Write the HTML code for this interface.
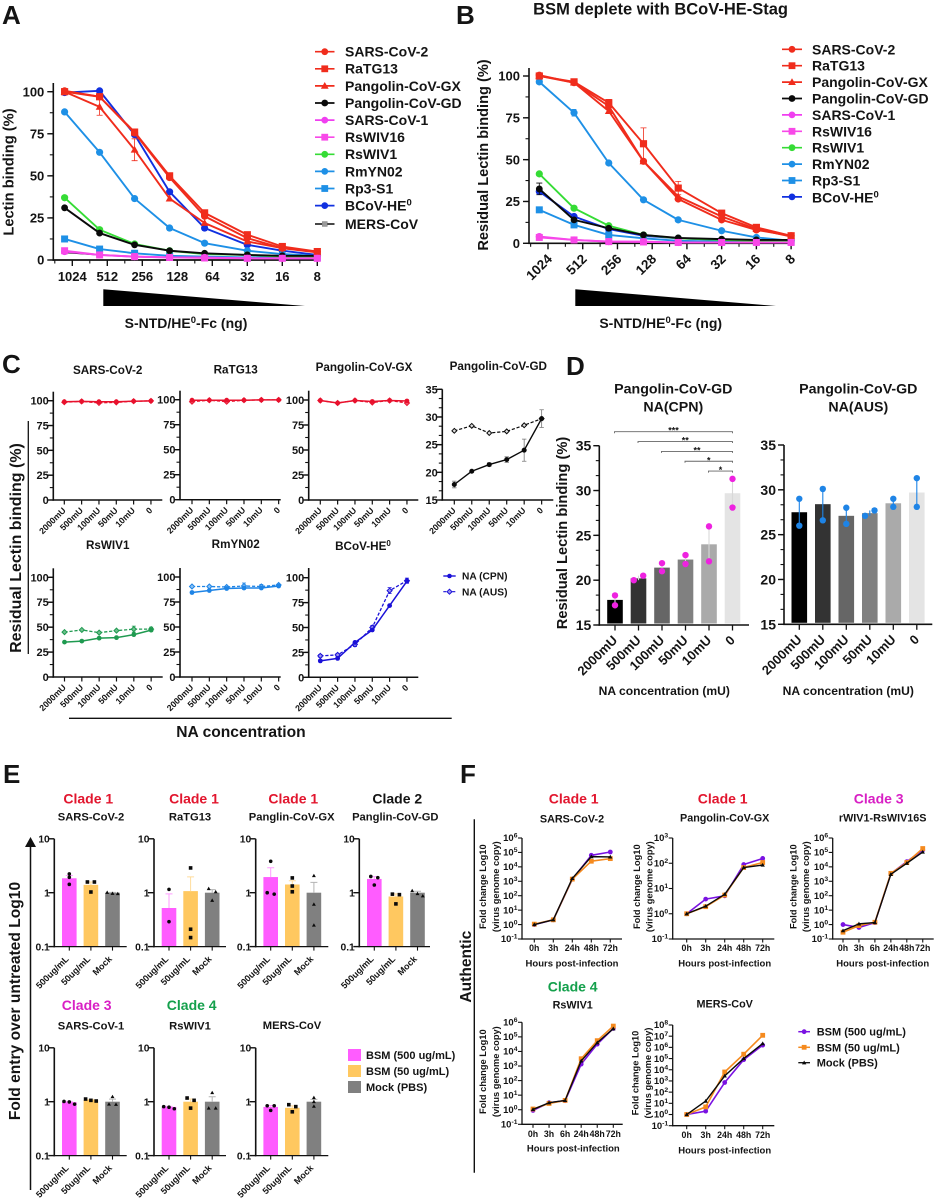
<!DOCTYPE html>
<html lang="en">
<head>
<meta charset="utf-8">
<title>Lectin binding figure</title>
<style>
html,body{margin:0;padding:0;background:#fff;}
svg{display:block;filter:blur(0.3px);}
text{font-family:"Liberation Sans",sans-serif;font-weight:700;fill:#141414;}
</style>
</head>
<body>
<svg id="figure" xmlns="http://www.w3.org/2000/svg" width="936" height="1200" viewBox="0 0 936 1200">
<rect width="936" height="1200" fill="#fff"/>

<!-- panel letters -->
<text x="2" y="24" font-size="26">A</text>
<text x="456" y="24" font-size="26">B</text>
<text x="2" y="373" font-size="26">C</text>
<text x="566" y="375" font-size="26">D</text>
<text x="3" y="783" font-size="26">E</text>
<text x="460" y="783" font-size="26">F</text>

<!-- panel A text -->
<text transform="translate(13.5 172) rotate(-90)" text-anchor="middle" font-size="14.7">Lectin binding (%)</text>
<polygon points="103.3,289.3 103.3,306 305,306" fill="#000"/>
<text x="186" y="328" text-anchor="middle" font-size="14">S-NTD/HE<tspan dy="-5" font-size="9.5">0</tspan><tspan dy="5">-Fc (ng)</tspan></text>
<g font-size="14">
<text x="345" y="56.7">SARS-CoV-2</text>
<text x="345" y="73.7">RaTG13</text>
<text x="345" y="91">Pangolin-CoV-GX</text>
<text x="345" y="108">Pangolin-CoV-GD</text>
<text x="345" y="125">SARS-CoV-1</text>
<text x="345" y="142">RsWIV16</text>
<text x="345" y="159">RsWIV1</text>
<text x="345" y="176.3">RmYN02</text>
<text x="345" y="193.3">Rp3-S1</text>
<text x="345" y="210.7">BCoV-HE<tspan dy="-5" font-size="9.5">0</tspan></text>
<text x="345" y="229">MERS-CoV</text>
</g>

<!-- panel B text -->
<text x="660.6" y="14.5" text-anchor="middle" font-size="16.5">BSM deplete with BCoV-HE-Stag</text>
<text transform="translate(488 155) rotate(-90)" text-anchor="middle" font-size="14.6">Residual Lectin binding (%)</text>
<polygon points="575.3,289.3 575.3,306 776,306" fill="#000"/>
<text x="660.7" y="328" text-anchor="middle" font-size="14">S-NTD/HE<tspan dy="-5" font-size="9.5">0</tspan><tspan dy="5">-Fc (ng)</tspan></text>
<g font-size="14">
<text x="812" y="54.3">SARS-CoV-2</text>
<text x="812" y="70.7">RaTG13</text>
<text x="812" y="87">Pangolin-CoV-GX</text>
<text x="812" y="103.3">Pangolin-CoV-GD</text>
<text x="812" y="120">SARS-CoV-1</text>
<text x="812" y="136.3">RsWIV16</text>
<text x="812" y="152.7">RsWIV1</text>
<text x="812" y="169">RmYN02</text>
<text x="812" y="185.3">Rp3-S1</text>
<text x="812" y="202.3">BCoV-HE<tspan dy="-5" font-size="9.5">0</tspan></text>
</g>

<!-- panel C text -->
<text x="107.7" y="374" text-anchor="middle" font-size="11.7">SARS-CoV-2</text>
<text x="235.7" y="373.3" text-anchor="middle" font-size="11.7">RaTG13</text>
<text x="364" y="371" text-anchor="middle" font-size="11.7">Pangolin-CoV-GX</text>
<text x="498.3" y="370" text-anchor="middle" font-size="11.7">Pangolin-CoV-GD</text>
<text x="107.7" y="549" text-anchor="middle" font-size="11.7">RsWIV1</text>
<text x="235.7" y="548" text-anchor="middle" font-size="11.7">RmYN02</text>
<text x="363" y="550" text-anchor="middle" font-size="11.7">BCoV-HE<tspan dy="-4" font-size="8">0</tspan></text>
<line x1="28.3" y1="421" x2="28.3" y2="654" stroke="#111" stroke-width="1.3"/>
<text transform="translate(21 548) rotate(-90)" text-anchor="middle" font-size="16">Residual Lectin binding (%)</text>
<line x1="69" y1="718.3" x2="451.7" y2="718.3" stroke="#111" stroke-width="1.3"/>
<text x="241" y="737" text-anchor="middle" font-size="15.6">NA concentration</text>
<text x="462" y="579.6" font-size="10.2">NA (CPN)</text>
<text x="462" y="595.3" font-size="10.2">NA (AUS)</text>

<!-- panel D text -->
<g text-anchor="middle" font-size="14.2">
<text x="673.3" y="393.3">Pangolin-CoV-GD</text>
<text x="673.3" y="411.7">NA(CPN)</text>
<text x="858.3" y="393.3">Pangolin-CoV-GD</text>
<text x="858.3" y="411.7">NA(AUS)</text>
</g>
<text transform="translate(567 533) rotate(-90)" text-anchor="middle" font-size="14.7">Residual Lectin binding (%)</text>
<text x="664.3" y="695" text-anchor="middle" font-size="12.1">NA concentration (mU)</text>
<text x="848.3" y="695" text-anchor="middle" font-size="12.1">NA concentration (mU)</text>

<!-- panel E text -->
<g text-anchor="middle" font-size="14">
<text x="88.3" y="803.3" style="fill:#e2162e">Clade 1</text>
<text x="194" y="803.3" style="fill:#e2162e">Clade 1</text>
<text x="293.3" y="803.3" style="fill:#e2162e">Clade 1</text>
<text x="397.3" y="803.3">Clade 2</text>
<text x="86.7" y="1010" style="fill:#d81fc4">Clade 3</text>
<text x="191.7" y="1010" style="fill:#14a04c">Clade 4</text>
</g>
<g text-anchor="middle" font-size="11.2">
<text x="91" y="820.7">SARS-CoV-2</text>
<text x="190" y="820.7">RaTG13</text>
<text x="291.7" y="820.7">Panglin-CoV-GX</text>
<text x="395.3" y="820.7">Panglin-CoV-GD</text>
<text x="91" y="1029.3">SARS-CoV-1</text>
<text x="190" y="1029.3">RsWIV1</text>
<text x="292" y="1029">MERS-CoV</text>
</g>
<line x1="30.5" y1="1190" x2="30.5" y2="845" stroke="#111" stroke-width="1.5"/>
<polygon points="30.5,837 25,847 36,847" fill="#111"/>
<text transform="translate(20 1001) rotate(-90)" text-anchor="middle" font-size="15.6">Fold entry over untreated Log10</text>
<rect x="348" y="1049" width="13" height="12" fill="#ff5cff"/>
<rect x="348" y="1065" width="13" height="12" fill="#ffc860"/>
<rect x="348" y="1081" width="13" height="12" fill="#808080"/>
<text x="366" y="1059" font-size="11">BSM (500 ug/mL)</text>
<text x="366" y="1075" font-size="11">BSM (50 ug/mL)</text>
<text x="366" y="1091" font-size="11">Mock (PBS)</text>

<!-- panel F text -->
<g text-anchor="middle" font-size="14">
<text x="573.7" y="803.3" style="fill:#e2162e">Clade 1</text>
<text x="722.7" y="803.3" style="fill:#e2162e">Clade 1</text>
<text x="878.7" y="803.3" style="fill:#d81fc4">Clade 3</text>
<text x="572.7" y="991.7" style="fill:#14a04c">Clade 4</text>
</g>
<g text-anchor="middle" font-size="10.8">
<text x="572" y="822.3">SARS-CoV-2</text>
<text x="724.7" y="821.7">Pangolin-CoV-GX</text>
<text x="882.7" y="821.7">rWIV1-RsWIV16S</text>
<text x="572.7" y="1008.3">RsWIV1</text>
<text x="724.7" y="1007.7">MERS-CoV</text>
</g>
<g text-anchor="middle" font-size="9.5">
<text x="572" y="966.7">Hours post-infection</text>
<text x="724.7" y="966.7">Hours post-infection</text>
<text x="882.7" y="966.7">Hours post-infection</text>
<text x="573.3" y="1151.7">Hours post-infection</text>
<text x="724.7" y="1153.3">Hours post-infection</text>
</g>
<g text-anchor="middle" font-size="9.3">
<text transform="translate(486 886.7) rotate(-90)">Fold change Log10</text>
<text transform="translate(499 886.7) rotate(-90)">(virus genome copy)</text>
<text transform="translate(640 886.7) rotate(-90)">Fold change Log10</text>
<text transform="translate(652.7 886.7) rotate(-90)">(virus genome copy)</text>
<text transform="translate(796.7 886.7) rotate(-90)">Fold change Log10</text>
<text transform="translate(809 886.7) rotate(-90)">(virus genome copy)</text>
<text transform="translate(486 1071.7) rotate(-90)">Fold change Log10</text>
<text transform="translate(499 1071.7) rotate(-90)">(virus genome copy)</text>
<text transform="translate(638.7 1073) rotate(-90)">Fold change Log10</text>
<text transform="translate(651 1073) rotate(-90)">(virus genome copy)</text>
</g>
<line x1="474.3" y1="819.3" x2="474.3" y2="1172.7" stroke="#111" stroke-width="1.4"/>
<text transform="translate(471 966.7) rotate(-90)" text-anchor="middle" font-size="15.6">Authentic</text>
<text x="816.7" y="1035.7" font-size="11">BSM (500 ug/mL)</text>
<text x="816.7" y="1051.3" font-size="11">BSM (50 ug/mL)</text>
<text x="816.7" y="1066.7" font-size="11">Mock (PBS)</text>
</svg>

<script>
/* ---------- data: panel A ---------- */
const doseLabels = ['1024', '512', '256', '128', '64', '32', '16', '8'];
const pctTicks = [0, 25, 50, 75, 100];
const aSarsCov2 = [100.5, 97, 75.5, 49, 26, 13, 7, 5];
const aRatg13 = [100, 97, 76, 50, 28, 15, 8, 5];
const aPangolinGx = [100, 91, 65.5, 36.5, 22, 11, 7, 4.5];
const aPangolinGxErr = [0, 5, 6.5, 0, 0, 0, 0, 0];
const aPangolinGd = [31, 16, 9, 5.5, 4, 3, 2.5, 2.5];
const aSarsCov1 = [5, 3, 2, 1.5, 1.5, 1, 1, 1];
const aRsWiv16 = [5.5, 3, 2, 1.5, 1.2, 1, 1, 1];
const aRsWiv1 = [37, 18, 9.5, 5.5, 3.5, 3, 2, 2];
const aRmYn02 = [88, 64, 36.5, 19, 10, 5.5, 3.5, 2.5];
const aRp3 = [12.5, 6.5, 4, 2.5, 2, 1.5, 1.5, 1.5];
const aBcov = [99.5, 100.5, 74.5, 40.5, 19, 9, 5.5, 3];
const aMers = [4.5, 3, 2, 1.5, 1.5, 1, 1, 1];

/* ---------- data: panel B ---------- */
const bSarsCov2 = [100.5, 96, 82, 49, 26.5, 14, 8, 4.5];
const bRatg13 = [100, 96.5, 84, 59.5, 33, 18, 9.5, 4.5];
const bRatg13Err = [0, 0, 2, 9.5, 4, 0, 0, 0];
const bPangolinGx = [100, 96, 79, 49, 28, 16, 8.5, 4];
const bPangolinGd = [32.5, 14, 9, 5, 3.2, 2.5, 2, 2];
const bPangolinGdErr = [3.5, 0, 0, 0, 0, 0, 0, 0];
const bSarsCov1 = [4, 2, 1, 1, 0.5, 0.5, 0.5, 0.5];
const bRsWiv16 = [3.5, 2, 1, 0.8, 0.5, 0.5, 0.5, 0.5];
const bRsWiv1 = [41.5, 21, 10.5, 5, 3, 2, 1.5, 1.5];
const bRmYn02 = [96.5, 78, 48, 26, 14, 7.5, 3.5, 1.5];
const bRmYn02Err = [0, 2, 0, 0, 0, 0, 0, 0];
const bRp3 = [20, 11, 5, 3, 1.5, 1, 1, 1];
const bBcov = [31, 16, 8.5, 4.5, 3, 2, 1.5, 1.5];

/* ---------- data: panel C ---------- */
const naLabels = ['2000mU', '500mU', '100mU', '50mU', '10mU', '0'];
const gdTicks = [15, 20, 25, 30, 35];
const cSarsCpn = [99, 99.3, 99, 99, 99.5, 99.8];
const cSarsAus = [98.5, 99.3, 97.8, 98.3, 99.5, 99.8];
const cRatgCpn = [99.5, 99.5, 99.5, 99.5, 99.8, 99.8];
const cRatgAus = [98, 99.5, 98, 99.5, 99.8, 99.8];
const cGxCpn = [99.5, 97, 99.5, 98.5, 99.5, 99];
const cGxAus = [99.5, 97, 99.5, 97.5, 99.5, 97];
const cGdCpn = [17.8, 20.2, 21.4, 22.3, 24, 29.7];
const cGdCpnErr = [0.6, 0.15, 0.3, 0.5, 2, 1.6];
const cGdAus = [27.5, 28.4, 27.1, 27.4, 28.5, 29.7];
const cWiv1Cpn = [35, 36, 39, 39.5, 42.5, 47];
const cWiv1Aus = [45, 47.2, 44.5, 46.5, 48, 48];
const cWiv1AusErr = [0, 0, 0, 0, 3, 2];
const cRmynCpn = [84.5, 86.5, 88.5, 89, 89, 91];
const cRmynAus = [90.5, 90.5, 90, 91, 90.5, 92];
const cRmynAusErr = [0, 0, 0, 3, 2, 0];
const cBcovCpn = [16.5, 19, 35, 47.5, 72, 96.5];
const cBcovAus = [21.5, 22.5, 33, 50, 87, 97];
const cBcovAusErr = [1.5, 1.5, 2, 2, 3, 2.5];

/* ---------- data: panel D ---------- */
const dCpnMeans = [17.8, 20.2, 21.4, 22.3, 24, 29.7];
const dCpnRepA = [18.3, 20, 21.9, 22.8, 26, 31.3];
const dCpnRepB = [17.2, 20.5, 21, 21.8, 22.1, 28.1];
const dAusMeans = [27.5, 28.4, 27.1, 27.4, 28.5, 29.7];
const dAusRepA = [29, 30.1, 28, 27.1, 29, 31.3];
const dAusRepB = [26, 26.6, 26.2, 27.7, 28.1, 28.1];
const sigFromBar = [0, 1, 2, 3, 4];
const sigLabels = ['***', '**', '**', '*', '*'];

/* ---------- data: panel E ---------- */
const eLabels = ['500ug/mL', '50ug/mL', 'Mock'];
const eTicks = [0.1, 1, 10];
const eTickLabels = ['0.1', '1', '10'];
const eSars2Means = [1.85, 1.4, 1.0];
const eSars2Bsm500 = [2.23, 1.93, 1.43];
const eSars2Bsm50 = [1.58, 1.58, 1.03];
const eSars2Mock = [0.96, 1.01, 0.97];
const eRatgMeans = [0.52, 1.07, 1.0];
const eRatgBsm500 = [1.15, 0.29];
const eRatgBsm50 = [2.88, 0.21, 0.147];
const eRatgMock = [1.19, 1.04, 0.72];
const eGxMeans = [1.95, 1.42, 1.0];
const eGxBsm500 = [3.83, 0.94, 1.0];
const eGxBsm50 = [1.88, 1.33, 1.04];
const eGxMock = [2.07, 0.61, 0.25];
const eGdMeans = [1.8, 0.85, 1.0];
const eGdBsm500 = [2.0, 1.9, 1.39];
const eGdBsm50 = [0.94, 0.92, 0.62];
const eGdMock = [0.87, 1.09, 0.96];
const eSars1Means = [0.98, 1.08, 1.0];
const eSars1Bsm500 = [0.9, 1.01, 0.99];
const eSars1Bsm50 = [1.03, 1.12, 1.06];
const eSars1Mock = [0.9, 1.24, 0.89];
const eWiv1Means = [0.8, 1.0, 1.0];
const eWiv1Bsm500 = [0.74, 0.81, 0.79];
const eWiv1Bsm50 = [1.17, 1.06, 0.76];
const eWiv1Mock = [0.76, 1.47, 0.76];
const eMersMeans = [0.8, 0.77, 1.0];
const eMersBsm500 = [0.84, 0.69, 0.84];
const eMersBsm50 = [0.88, 0.81, 0.65];
const eMersMock = [1.19, 1.0, 0.82];

/* ---------- data: panel F (log10 fold change) ---------- */
const hoursFive = ['0h', '3h', '24h', '48h', '72h'];
const hoursSix = ['0h', '3h', '6h', '24h', '48h', '72h'];
const expSix = [-1, 0, 1, 2, 3, 4, 5, 6];
const expThree = [-1, 0, 1, 2, 3];
const expEight = [-1, 0, 1, 2, 3, 4, 5, 6, 7, 8];
const fSarsBsm500 = [0, 0.33, 3.14, 4.8, 5.03];
const fSarsBsm50 = [0.03, 0.33, 3.15, 4.39, 4.57];
const fSarsMock = [0, 0.33, 3.2, 4.71, 4.69];
const fGxBsm500 = [0, 0.58, 0.71, 1.95, 2.19];
const fGxBsm50 = [0, 0.28, 0.74, 1.83, 2.03];
const fGxMock = [0, 0.3, 0.77, 1.83, 1.93];
const fRwivBsm500 = [0, -0.2, 0.14, 3.53, 4.36, 5.17];
const fRwivBsm50 = [-0.53, -0.07, 0.16, 3.55, 4.3, 5.27];
const fRwivMock = [-0.42, 0.05, 0.14, 3.48, 4.25, 5.03];
const fWiv1Bsm500 = [-0.05, 0.48, 0.62, 3.13, 4.5, 5.58];
const fWiv1Bsm50 = [0.05, 0.43, 0.64, 3.5, 4.74, 5.74];
const fWiv1Mock = [0.02, 0.48, 0.64, 3.35, 4.6, 5.56];
const fMersBsm500 = [0, 0.3, 2.86, 4.9, 6.2];
const fMersBsm50 = [0, 0.68, 3.8, 5.39, 7.08];
const fMersMock = [0, 1.2, 3.45, 5.0, 6.34];

/* ---------- palette ---------- */
const RED = '#f02c1c', BLACK = '#0a0a0a', MAG = '#f03ff0', PINK = '#f848e8', GREEN = '#35dc35',
      SKY = '#1e90e6', BLUE = '#1030e0', GREY = '#9a9a9a';

/* ---------- helpers ---------- */
const NS = 'http://www.w3.org/2000/svg';
const root = document.getElementById('figure');

function mk(tag, attrs, parent) {
  const n = document.createElementNS(NS, tag);
  for (const k in attrs) n.setAttribute(k, attrs[k]);
  parent.appendChild(n);
  return n;
}
function group(name) {
  const g = mk('g', {}, root);
  
  
  return g;
}
function tickLine(g, x1, y1, x2, y2, sw) {
  const t = mk('line', { x1: x1, y1: y1, x2: x2, y2: y2, stroke: '#111', 'stroke-width': sw }, g);
  
  
  return t;
}
function label(g, str, x, y, fs, anchor, rot) {
  const t = mk('text', { x: x, y: y, 'font-size': fs, 'text-anchor': anchor }, g);
  if (rot) t.setAttribute('transform', 'rotate(' + rot + ' ' + x + ' ' + y + ')');
  t.textContent = str;
  
  
  return t;
}
function marker(g, kind, cx, cy, s, color, hollow) {
  let n;
  const fill = hollow ? hollow : color;
  if (kind === 'circle') n = mk('circle', { cx: cx, cy: cy, r: s, fill: fill, stroke: color, 'stroke-width': hollow ? 1 : 0 }, g);
  else if (kind === 'square') n = mk('rect', { x: cx - s, y: cy - s, width: 2 * s, height: 2 * s, fill: fill }, g);
  else if (kind === 'triangle') n = mk('polygon', { points: cx + ',' + (cy - s * 1.15) + ' ' + (cx - s * 1.15) + ',' + (cy + s * 0.85) + ' ' + (cx + s * 1.15) + ',' + (cy + s * 0.85), fill: fill }, g);
  else n = mk('polygon', { points: cx + ',' + (cy - s) + ' ' + (cx + s) + ',' + cy + ' ' + cx + ',' + (cy + s) + ' ' + (cx - s) + ',' + cy, fill: fill, stroke: color, 'stroke-width': hollow ? 1 : 0 }, g);
  
  
  return n;
}
function errorBar(g, x, yLow, yHigh, cap, color) {
  const e = mk('path', { d: 'M' + x + ' ' + yLow + 'V' + yHigh + 'M' + (x - cap) + ' ' + yHigh + 'H' + (x + cap) + 'M' + (x - cap) + ' ' + yLow + 'H' + (x + cap), stroke: color, 'stroke-width': 0.8, fill: 'none' }, g);
  
  
  return e;
}
function series(g, name, values, xOf, yOf, o) {
  const sg = mk('g', {}, g);
  
  
  const pts = values.map(function (v, i) { return xOf(i) + ',' + yOf(v); }).join(' ');
  const l = mk('polyline', { points: pts, fill: 'none', stroke: o.color, 'stroke-width': o.sw, 'stroke-linejoin': 'round' }, sg);
  if (o.dash) l.setAttribute('stroke-dasharray', o.dash);
  
  
  if (o.err) {
    o.err.forEach(function (e, i) {
      if (e > 0) errorBar(sg, xOf(i), yOf(values[i] - e), yOf(values[i] + e), o.cap || 2.4, o.errColor || o.color);
    });
  }
  values.forEach(function (v, i) {
    marker(sg, o.kind, xOf(i), yOf(v), o.size, o.color, o.hollow);
  });
}
function legendKey(g, x1, x2, y, o) {
  const l = mk('line', { x1: x1, y1: y, x2: x2, y2: y, stroke: o.color, 'stroke-width': o.sw }, g);
  if (o.dash) l.setAttribute('stroke-dasharray', o.dash);
  
  
  marker(g, o.kind, (x1 + x2) / 2, y, o.size, o.color, o.hollow);
}
function yAxis(g, x, yOf, ticks, labels, minorStep, top, fs, gap) {
  const vals = ticks;
  const bottomV = vals[0];
  const bottom = yOf(bottomV);
  tickLine(g, x, top, x, bottom + 0.7, 1.6);
  vals.forEach(function (v, i) {
    tickLine(g, x - 6, yOf(v), x, yOf(v), 1.4);
    label(g, labels[i], x - gap, yOf(v) + fs * 0.36, fs, 'end');
  });
  if (minorStep) {
    for (let k = 0; bottomV + k * minorStep < 1e4; k++) {
      const y = yOf(bottomV + k * minorStep);
      if (y < top) break;
      tickLine(g, x - 3.5, y, x, y, 1.1);
    }
  }
}

/* ---------- panel A & B ---------- */
const lineSw = 1.9;
const dotR = 3.6;
function drawDose(prefix, xMajor0, step, shift, axisX, axisEnd, y100, y0, top, rotated, seriesList) {
  const g = group(prefix + '-chart');
  const yOf = function (v) { return y0 - v * (y0 - y100) / 100; };
  const tickX = function (i) { return xMajor0 + i * step; };
  const xOf = function (i) { return tickX(i) - (i < 5 ? shift : 0); };
  yAxis(g, axisX, yOf, pctTicks, pctTicks.map(String), 12.5, top, 13, 9);
  tickLine(g, axisX - 0.8, y0, axisEnd, y0, 1.7);
  doseLabels.forEach(function (d, i) {
    tickLine(g, tickX(i), y0, tickX(i), y0 + 6, 1.4);
    if (i > 0) tickLine(g, tickX(i) - step / 2, y0, tickX(i) - step / 2, y0 + 3.5, 1.1);
    if (rotated) label(g, d, tickX(i) + 5, y0 + 16.5, 13.5, 'end', -45);
    else label(g, d, tickX(i), y0 + 21, 13, 'middle');
  });
  tickLine(g, tickX(0) - step / 2, y0, tickX(0) - step / 2, y0 + 3.5, 1.1);
  seriesList.forEach(function (s) {
    series(g, s.name, s.values, xOf, yOf, s);
  });
}
drawDose('a', 72.3, 35, 7.7, 53.3, 320, 91.7, 260, 83, false, [
  { name: 'mers-cov', values: aMers, color: BLACK, kind: 'square', size: 2, sw: 1.4 },
  { name: 'bcov-he0', values: aBcov, color: BLUE, kind: 'circle', size: dotR, sw: lineSw },
  { name: 'rp3-s1', values: aRp3, color: SKY, kind: 'square', size: 3.5, sw: lineSw },
  { name: 'rmyn02', values: aRmYn02, color: SKY, kind: 'circle', size: dotR, sw: lineSw },
  { name: 'rswiv1', values: aRsWiv1, color: GREEN, kind: 'circle', size: dotR, sw: lineSw },
  { name: 'pangolin-gd', values: aPangolinGd, color: BLACK, kind: 'circle', size: 3.4, sw: lineSw },
  { name: 'pangolin-gx', values: aPangolinGx, err: aPangolinGxErr, color: RED, kind: 'triangle', size: 3.4, sw: lineSw, cap: 3 },
  { name: 'ratg13', values: aRatg13, color: RED, kind: 'square', size: 3.6, sw: lineSw },
  { name: 'sars-cov-2', values: aSarsCov2, color: RED, kind: 'circle', size: dotR, sw: lineSw },
  { name: 'sars-cov-1', values: aSarsCov1, color: MAG, kind: 'circle', size: dotR, sw: lineSw },
  { name: 'rswiv16', values: aRsWiv16, color: PINK, kind: 'square', size: 3.5, sw: lineSw }
]);
drawDose('b', 548, 34.73, 8.7, 529, 794, 76, 243.3, 68, true, [
  { name: 'bcov-he0', values: bBcov, color: BLUE, kind: 'circle', size: dotR, sw: lineSw },
  { name: 'rp3-s1', values: bRp3, color: SKY, kind: 'square', size: 3.5, sw: lineSw },
  { name: 'rmyn02', values: bRmYn02, err: bRmYn02Err, color: SKY, kind: 'circle', size: dotR, sw: lineSw },
  { name: 'rswiv1', values: bRsWiv1, color: GREEN, kind: 'circle', size: dotR, sw: lineSw },
  { name: 'pangolin-gd', values: bPangolinGd, err: bPangolinGdErr, color: BLACK, kind: 'circle', size: 3.4, sw: lineSw, cap: 3 },
  { name: 'pangolin-gx', values: bPangolinGx, color: RED, kind: 'triangle', size: 3.4, sw: lineSw },
  { name: 'ratg13', values: bRatg13, err: bRatg13Err, color: RED, kind: 'square', size: 3.6, sw: lineSw, cap: 3 },
  { name: 'sars-cov-2', values: bSarsCov2, color: RED, kind: 'circle', size: dotR, sw: lineSw },
  { name: 'sars-cov-1', values: bSarsCov1, color: MAG, kind: 'circle', size: dotR, sw: lineSw },
  { name: 'rswiv16', values: bRsWiv16, color: PINK, kind: 'square', size: 3.5, sw: lineSw }
]);

const legendStyles = [
  { color: RED, kind: 'circle' }, { color: RED, kind: 'square' }, { color: RED, kind: 'triangle' },
  { color: BLACK, kind: 'circle' }, { color: MAG, kind: 'circle' }, { color: PINK, kind: 'square' },
  { color: GREEN, kind: 'circle' }, { color: SKY, kind: 'circle' }, { color: SKY, kind: 'square' },
  { color: BLUE, kind: 'circle' }
];
const aLegend = group('a-legend-keys');
legendStyles.forEach(function (s, i) {
  legendKey(aLegend, 315, 334.5, 51.7 + i * 17.1, { color: s.color, kind: s.kind, size: 3.4, sw: 1.7 });
});
legendKey(aLegend, 315, 334.5, 224, { color: BLACK, kind: 'square', size: 2.6, sw: 1.6 });
marker(aLegend, 'square', 324.7, 224, 2.6, GREY);
const bLegend = group('b-legend-keys');
legendStyles.forEach(function (s, i) {
  legendKey(bLegend, 782, 802, 49.3 + i * 16.4, { color: s.color, kind: s.kind, size: 3.4, sw: 1.7 });
});

/* ---------- panel C ---------- */
const cLayouts = [
  { name: 'sars-cov-2', solid: cSarsCpn, dashed: cSarsAus, color: '#e8112d', tint: '#f27a8a', axis: 53.3, end: 162.3, first: 64.3, step: 17.33, y100: 400.7, y0: 500, top: 391.7 },
  { name: 'ratg13', solid: cRatgCpn, dashed: cRatgAus, color: '#e8112d', tint: '#f27a8a', axis: 180, end: 280.7, first: 192, step: 17.33, y100: 399.7, y0: 499.7, top: 390.7 },
  { name: 'pangolin-gx', solid: cGxCpn, dashed: cGxAus, color: '#e8112d', tint: '#f27a8a', axis: 308.7, end: 418.3, first: 320.3, step: 17.33, y100: 400, y0: 500, top: 390.7 },
  { name: 'rswiv1', solid: cWiv1Cpn, dashed: cWiv1Aus, dashedErr: cWiv1AusErr, color: '#1f9a50', tint: '#6fc08e', axis: 53.3, end: 162.7, first: 64.5, step: 17.33, y100: 577.3, y0: 677, top: 568.3 },
  { name: 'rmyn02', solid: cRmynCpn, dashed: cRmynAus, dashedErr: cRmynAusErr, color: '#1e84e6', tint: '#8fc4f4', axis: 180, end: 280.7, first: 192, step: 17.33, y100: 577, y0: 677, top: 568 },
  { name: 'bcov-he0', solid: cBcovCpn, dashed: cBcovAus, dashedErr: cBcovAusErr, color: '#1a10d8', tint: '#9a94ee', axis: 308.7, end: 418.3, first: 320.3, step: 17.33, y100: 577.7, y0: 677.3, top: 568 }
];
cLayouts.forEach(function (c) {
  const g = group('c-chart-' + c.name);
  const yOf = function (v) { return c.y0 - v * (c.y0 - c.y100) / 100; };
  const xOf = function (i) { return c.first + i * c.step; };
  yAxis(g, c.axis, yOf, pctTicks, pctTicks.map(String), 12.5, c.top, 11, 4.5);
  tickLine(g, c.axis - 0.8, c.y0, c.end, c.y0, 1.5);
  naLabels.forEach(function (d, i) {
    tickLine(g, xOf(i), c.y0, xOf(i), c.y0 + 4.5, 1.2);
    label(g, d, xOf(i) + 2, c.y0 + 11, 8.7, 'end', -45);
  });
  series(g, 'na-aus', c.dashed, xOf, yOf, { color: c.color, kind: 'diamond', size: 2.5, sw: 1.3, dash: '3.2 1.8', hollow: c.tint, err: c.dashedErr, cap: 2 });
  series(g, 'na-cpn', c.solid, xOf, yOf, { color: c.color, kind: 'circle', size: 2.4, sw: 1.5 });
});
(function () {
  const g = group('c-chart-pangolin-gd');
  const yOf = function (v) { return 500 - (v - 15) * (500 - 389.3) / 20; };
  const xOf = function (i) { return 454.3 + i * 17.47; };
  yAxis(g, 442.3, yOf, gdTicks, gdTicks.map(String), 5 / 3, 389.3, 11, 4.5);
  tickLine(g, 441.5, 500, 553.3, 500, 1.5);
  naLabels.forEach(function (d, i) {
    tickLine(g, xOf(i), 500, xOf(i), 504.5, 1.2);
    label(g, d, xOf(i) + 2, 511, 8.7, 'end', -45);
  });
  series(g, 'na-aus', cGdAus, xOf, yOf, { color: BLACK, kind: 'diamond', size: 2.4, sw: 1.2, dash: '3.2 1.8', hollow: '#dcdcdc' });
  series(g, 'na-cpn', cGdCpn, xOf, yOf, { color: BLACK, kind: 'circle', size: 2.5, sw: 1.4, err: cGdCpnErr, errColor: '#777', cap: 2.2 });
})();
const cLegend = group('c-legend-keys');
legendKey(cLegend, 443.3, 455.7, 576, { color: '#1a10d8', kind: 'circle', size: 2.3, sw: 1.4 });
legendKey(cLegend, 443.3, 455.7, 591.7, { color: '#1a10d8', kind: 'diamond', size: 2.5, sw: 1.2, dash: '3 1.5', hollow: '#9a94ee' });

/* ---------- panel D ---------- */
const dGreys = ['#000000', '#333333', '#666666', '#808080', '#aaaaaa', '#e4e4e4'];
function drawBars(prefix, means, repA, repB, axis, end, firstBar, y35, y15, dotColor, errColorOf) {
  const g = group(prefix);
  const yOf = function (v) { return y15 - (v - 15) * (y15 - y35) / 20; };
  const xOf = function (i) { return firstBar + i * 23.5; };
  means.forEach(function (m, i) {
    const b = mk('rect', { x: xOf(i) - 7.8, y: yOf(m), width: 15.6, height: y15 - 1.5 - yOf(m), fill: dGreys[i] }, g);
    
    
  });
  yAxis(g, axis, yOf, gdTicks, gdTicks.map(String), 5 / 3, y35, 14, 8);
  tickLine(g, axis - 0.8, y15, end, y15, 1.6);
  naLabels.forEach(function (d, i) {
    tickLine(g, xOf(i), y15, xOf(i), y15 + 5.5, 1.3);
    label(g, d, xOf(i) + 3.2, y15 + 16, 13, 'end', -45);
    const a = repA[i], b2 = repB[i];
    const close = Math.abs(yOf(a) - yOf(b2)) < 6;
    const spread = close ? 4.7 : 0;
    const conn = mk('line', { x1: xOf(i), y1: yOf(a), x2: xOf(i), y2: yOf(b2), stroke: errColorOf, 'stroke-width': 1.1 }, g);
    
    
    marker(g, 'circle', xOf(i) - spread, yOf(Math.min(a, b2)), 3.2, dotColor);
    marker(g, 'circle', xOf(i) + spread, yOf(Math.max(a, b2)), 3.2, dotColor);
  });
  return { xOf: xOf };
}
const dLeft = drawBars('d-left-chart', dCpnMeans, dCpnRepA, dCpnRepB, 599.3, 749, 615, 445.7, 625, '#ee22e0', '#d8d8d8');
drawBars('d-right-chart', dAusMeans, dAusRepA, dAusRepB, 784, 932.3, 799.3, 445, 624.3, '#1e84e6', '#1e84e6');
const sigG = group('d-significance-brackets');
sigFromBar.forEach(function (from, i) {
  const x1 = dLeft.xOf(from) - 0.5, x2 = dLeft.xOf(5), y = 431.7 + i * 9.85;
  const p = mk('path', { d: 'M' + x1 + ' ' + (y + 1.5) + 'V' + y + 'H' + x2 + 'V' + (y + 1.5), stroke: '#666', 'stroke-width': 0.9, fill: 'none' }, sigG);
  
  
  const t = label(sigG, sigLabels[i], (x1 + x2) / 2, y + 2, 9, 'middle');
  
});

/* ---------- panel E ---------- */
const eBarColors = ['#ff5cff', '#ffc860', '#808080'];
const eErrColors = ['#ff9cff', '#ffdc9c', '#b4b4b4'];
const eMarkers = ['circle', 'square', 'triangle'];
const eMarkerSize = [1.8, 1.8, 1.7];
const eLayouts = [
  { name: 'sars-cov-2', means: eSars2Means, reps: [eSars2Bsm500, eSars2Bsm50, eSars2Mock], axis: 54.3, end: 126.7, y1: 892.7 },
  { name: 'ratg13', means: eRatgMeans, reps: [eRatgBsm500, eRatgBsm50, eRatgMock], axis: 154, end: 226, y1: 892.7 },
  { name: 'panglin-gx', means: eGxMeans, reps: [eGxBsm500, eGxBsm50, eGxMock], axis: 255.7, end: 328.3, y1: 892.7 },
  { name: 'panglin-gd', means: eGdMeans, reps: [eGdBsm500, eGdBsm50, eGdMock], axis: 359.3, end: 430, y1: 892.7 },
  { name: 'sars-cov-1', means: eSars1Means, reps: [eSars1Bsm500, eSars1Bsm50, eSars1Mock], axis: 54.3, end: 126.7, y1: 1101.7 },
  { name: 'rswiv1', means: eWiv1Means, reps: [eWiv1Bsm500, eWiv1Bsm50, eWiv1Mock], axis: 154, end: 226, y1: 1101.7 },
  { name: 'mers-cov', means: eMersMeans, reps: [eMersBsm500, eMersBsm50, eMersMock], axis: 255.7, end: 328.3, y1: 1101.7 }
];
function swarmOffsets(ys) {
  const order = ys.map(function (y, i) { return i; }).sort(function (a, b) { return ys[a] - ys[b]; });
  const off = ys.map(function () { return 0; });
  let start = 0;
  for (let k = 1; k <= order.length; k++) {
    if (k === order.length || ys[order[k]] - ys[order[k - 1]] > 3.2) {
      const n = k - start;
      if (n > 1) {
        const d = n === 2 ? 7 : 5.3;
        for (let j = 0; j < n; j++) off[order[start + j]] = (j - (n - 1) / 2) * d;
      }
      start = k;
    }
  }
  return off;
}
eLayouts.forEach(function (c) {
  const g = group('e-chart-' + c.name);
  const yOf = function (v) { return c.y1 - Math.log10(v) * 53.9; };
  const xOf = function (i) { return c.axis + 15 + i * 21.6; };
  const y0 = yOf(eTicks[0]);
  c.means.forEach(function (m, i) {
    const b = mk('rect', { x: xOf(i) - 7.3, y: yOf(m), width: 14.6, height: y0 - yOf(m), fill: eBarColors[i] }, g);
    
    
    const r = c.reps[i];
    const avg = r.reduce(function (a, v) { return a + v; }, 0) / r.length;
    const sd = Math.sqrt(r.reduce(function (a, v) { return a + (v - avg) * (v - avg); }, 0) / Math.max(1, r.length - 1));
    const sem = sd / Math.sqrt(r.length);
    const e = mk('path', { d: 'M' + xOf(i) + ' ' + yOf(m) + 'V' + yOf(m + sem) + 'M' + (xOf(i) - 3.5) + ' ' + yOf(m + sem) + 'H' + (xOf(i) + 3.5), stroke: eErrColors[i], 'stroke-width': 1, fill: 'none' }, g);
    
    
  });
  yAxis(g, c.axis, yOf, eTicks, eTickLabels, 0, yOf(eTicks[2]), 10.3, 4.5);
  tickLine(g, c.axis - 0.8, y0, c.end, y0, 1.3);
  eLabels.forEach(function (d, i) {
    tickLine(g, xOf(i), y0, xOf(i), y0 + 4, 1.1);
    label(g, d, xOf(i), y0 + 13, 9, 'end', -45);
    const ys = c.reps[i].map(yOf);
    const off = swarmOffsets(ys);
    ys.forEach(function (y, j) {
      marker(g, eMarkers[i], xOf(i) + off[j], y, eMarkerSize[i], '#0a0a0a');
    });
  });
});

/* ---------- panel F ---------- */
const PURPLE = '#7a12e2', ORANGE = '#f58a1e';
const fLayouts = [
  { name: 'sars-cov-2', hours: hoursFive, exps: expSix, a: fSarsBsm500, b: fSarsBsm50, c: fSarsMock, axis: 522, end: 622, first: 534.3, step: 19, top: 838, bottom: 939, tickBase: 951 },
  { name: 'pangolin-gx', hours: hoursFive, exps: expThree, a: fGxBsm500, b: fGxBsm50, c: fGxMock, axis: 672.7, end: 774.3, first: 686.7, step: 19, top: 838, bottom: 939, tickBase: 951 },
  { name: 'rwiv1-rswiv16s', hours: hoursSix, exps: expSix, a: fRwivBsm500, b: fRwivBsm50, c: fRwivMock, axis: 832.7, end: 933.7, first: 843, step: 15.95, top: 838, bottom: 939, tickBase: 951 },
  { name: 'rswiv1', hours: hoursSix, exps: expSix, a: fWiv1Bsm500, b: fWiv1Bsm50, c: fWiv1Mock, axis: 522, end: 622.7, first: 533, step: 16.06, top: 1022.3, bottom: 1124.3, tickBase: 1137 },
  { name: 'mers-cov', hours: hoursFive, exps: expEight, a: fMersBsm500, b: fMersBsm50, c: fMersMock, axis: 672.7, end: 774.3, first: 686.7, step: 19, top: 1025, bottom: 1125.7, tickBase: 1138 }
];
fLayouts.forEach(function (c) {
  const g = group('f-chart-' + c.name);
  const lo = c.exps[0], hi = c.exps[c.exps.length - 1];
  const yOf = function (v) { return c.bottom - (v - lo) * (c.bottom - c.top) / (hi - lo); };
  const xOf = function (i) { return c.first + i * c.step; };
  tickLine(g, c.axis, c.top, c.axis, c.bottom + 0.6, 1.3);
  tickLine(g, c.axis - 0.6, c.bottom, c.end, c.bottom, 1.3);
  c.exps.forEach(function (e) {
    tickLine(g, c.axis - 4, yOf(e), c.axis, yOf(e), 1.1);
    const t = label(g, '10', c.axis - 4.5, yOf(e) + 3.2, 9.5, 'end');
    const s = mk('tspan', { dy: -3.5, 'font-size': 6.8 }, t);
    s.textContent = String(e);
  });
  c.hours.forEach(function (h, i) {
    tickLine(g, xOf(i), c.bottom, xOf(i), c.bottom + 3.5, 1.1);
    label(g, h, xOf(i), c.tickBase, 8.8, 'middle');
  });
  series(g, 'bsm-500', c.a, xOf, yOf, { color: PURPLE, kind: 'circle', size: 2.4, sw: 1.6 });
  series(g, 'bsm-50', c.b, xOf, yOf, { color: ORANGE, kind: 'square', size: 2.4, sw: 1.6 });
  series(g, 'mock', c.c, xOf, yOf, { color: BLACK, kind: 'triangle', size: 1.9, sw: 1.4 });
});
const fLegend = group('f-legend-keys');
legendKey(fLegend, 798.3, 810, 1031.7, { color: PURPLE, kind: 'circle', size: 2.4, sw: 1.5 });
legendKey(fLegend, 798.3, 810, 1047.3, { color: ORANGE, kind: 'square', size: 2.4, sw: 1.5 });
legendKey(fLegend, 798.3, 810, 1062.7, { color: BLACK, kind: 'triangle', size: 1.9, sw: 1.3 });
</script>
</body>
</html>
